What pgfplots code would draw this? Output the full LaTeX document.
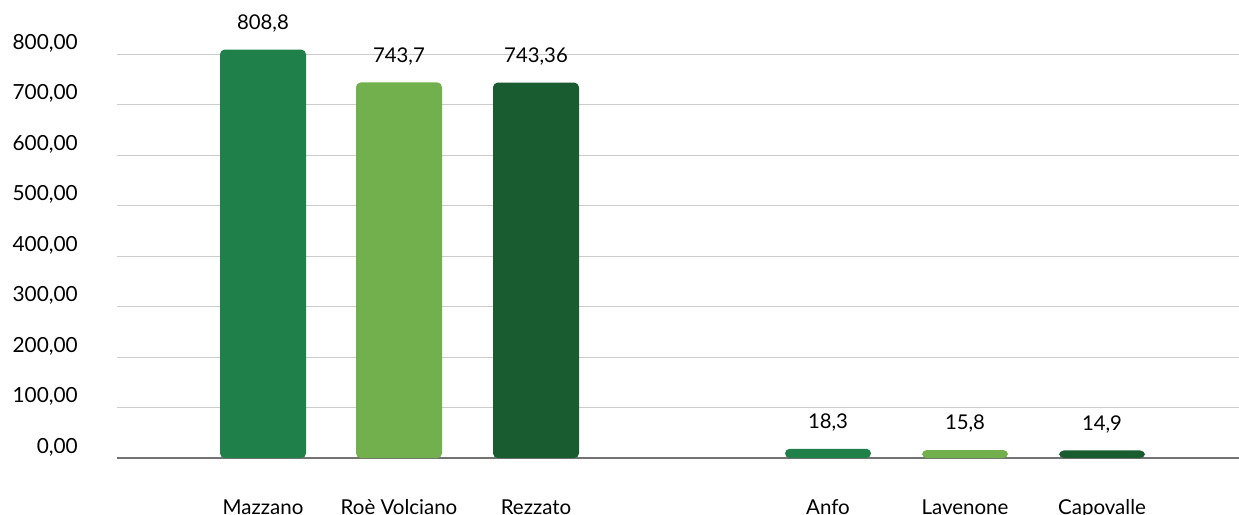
\documentclass[border=0pt]{standalone}
\usepackage{fontspec}
\setmainfont{Lato}
\usepackage{pgfplots}
\pgfplotsset{compat=1.18}
\definecolor{gmed}{HTML}{1F804A}
\definecolor{glight}{HTML}{71B04D}
\definecolor{gdark}{HTML}{185C2F}
\begin{document}
\begin{tikzpicture}
\begin{axis}[
    at={(70.2pt,33.6pt)}, anchor=south west,
    scale only axis,
    width=673.2pt, height=274.8pt,
    xmin=117, xmax=1239,
    ymin=0, ymax=907,
    ytick={100,200,300,400,500,600,700,800},
    extra y ticks={0},
    extra y tick style={grid style={draw=gray!90!black, line width=0.9pt}},
    ymajorgrids,
    grid style={draw=black!20, line width=0.6pt},
    axis line style={draw=none},
    tick style={draw=none},
    yticklabel style={font=\fontsize{12.5}{14}\selectfont, yshift=6.5pt, xshift=-20pt},
    /pgf/number format/.cd, fixed, fixed zerofill, precision=2, use comma, 1000 sep={}, assume math mode=true,
    /pgfplots/.cd,
    xtick={263,399,536,828,965,1102},
    xticklabels={Mazzano,Roè Volciano,Rezzato,Anfo,Lavenone,Capovalle},
    xticklabel style={font=\fontsize{12.3}{14}\selectfont, anchor=north, yshift=-17pt},
    ybar, bar width=86, bar shift=0pt,
    point meta=explicit symbolic,
    nodes near coords,
    every node near coord/.append style={font=\fontsize{12.2}{14}\selectfont, text=black, anchor=south, yshift=7pt},
]
\addplot[fill=gmed, draw=none, rounded corners=2.8pt] coordinates {(263,808.8)[808,8] (828,18.3)[18,3]};
\addplot[fill=glight, draw=none, rounded corners=2.8pt] coordinates {(399,743.7)[743,7] (965,15.8)[15,8]};
\addplot[fill=gdark, draw=none, rounded corners=2.8pt] coordinates {(536,743.36)[743,36] (1102,14.9)[14,9]};
\end{axis}
\pgfresetboundingbox
\path[use as bounding box] (0,0) rectangle (743.4pt,308.4pt);
\end{tikzpicture}
\end{document}
